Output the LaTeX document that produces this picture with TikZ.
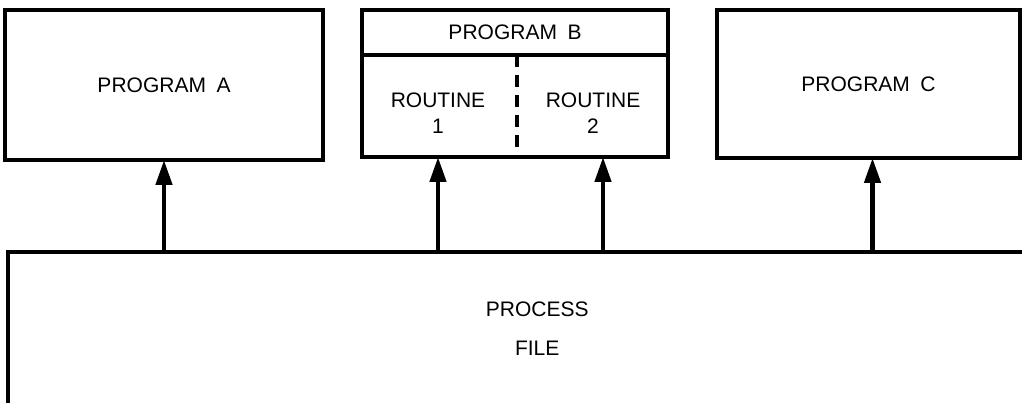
\documentclass[tikz,border=0pt]{standalone}
\usepackage{fontspec}
\setmainfont{Liberation Sans}
\usetikzlibrary{arrows.meta, positioning}

\begin{document}
\begin{tikzpicture}[
    x=1pt, y=1pt,
    prog/.style={rectangle, draw, line width=3.5pt, font=\fontsize{21}{26.5}\selectfont,
                 align=center, inner sep=0pt, outer sep=0pt},
    part/.style={font=\fontsize{21}{26.5}\selectfont, align=center, inner sep=0pt},
    feed/.style={line width=4.5pt, -{Triangle[length=25pt, width=16pt]}},
  ]
    \useasboundingbox (0,0) rectangle (1022,402);

    \node[prog, minimum width=318pt, minimum height=150pt] (progA) at (164,317) {PROGRAM\enspace A};
    \node[prog, minimum width=306pt, minimum height=45pt] (progB) at (515,369.5) {PROGRAM\enspace B};
    \node[prog, minimum width=306pt, minimum height=102pt, below=0pt of progB] (progBlow) {};
    \node[part] (rout1) at (438,289) {ROUTINE\\1};
    \node[part] (rout2) at (593,289) {ROUTINE\\2};
    \node[prog, minimum width=303pt, minimum height=148pt] (progC) at (868.5,318) {PROGRAM\enspace C};

    % split between the two routines
    \draw[line width=3.5pt, dash pattern=on 12pt off 8pt]
      ([xshift=2pt]progBlow.north) -- ([xshift=2pt]progBlow.south);

    % process file runs off the page
    \node[part, minimum width=1058pt, minimum height=152pt, font=\fontsize{21}{39}\selectfont,
          anchor=north west] (proc) at (8,150) {PROCESS\\FILE};
    \draw[line width=3.5pt] (proc.south west) -- (proc.north west) -- (proc.north east);

    \draw[feed] (proc.north -| progA.south) -- (progA.south);
    \draw[feed] (proc.north -| rout1) -- (rout1 |- progBlow.south);
    \draw[feed] ([xshift=10pt]proc.north -| rout2) -- ([xshift=10pt]rout2 |- progBlow.south);
    \draw[feed] ([xshift=4pt]proc.north -| progC.south) -- ([xshift=4pt]progC.south);
  \end{tikzpicture}
\end{document}
